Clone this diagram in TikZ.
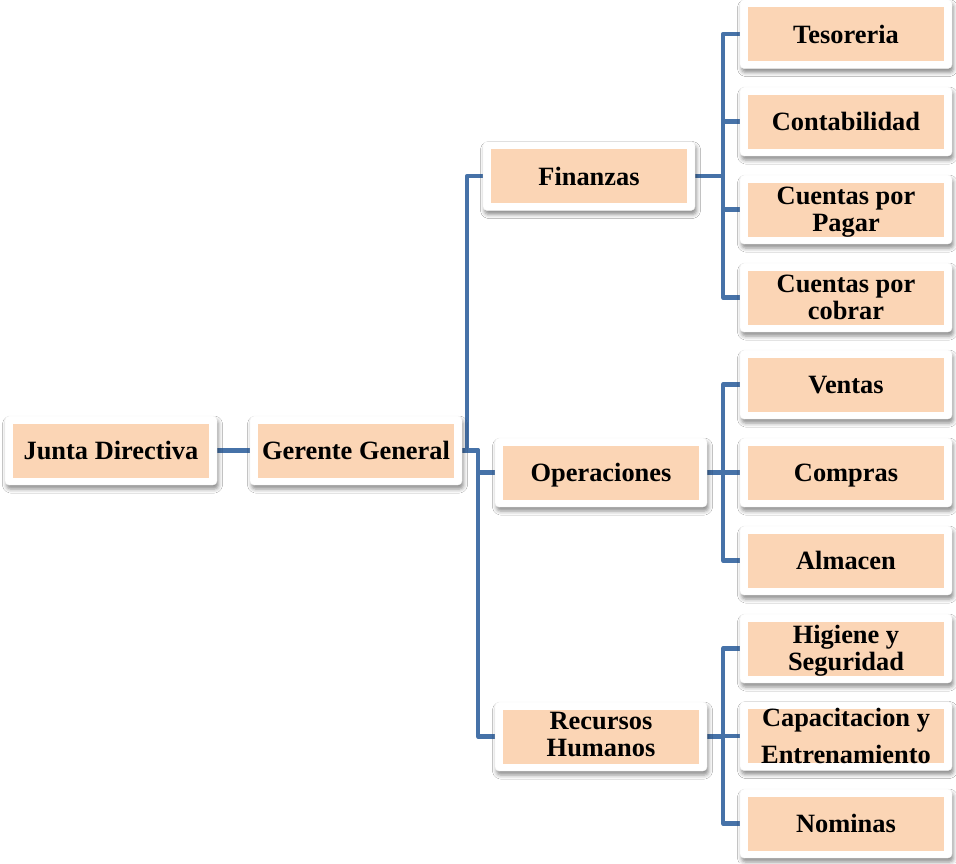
\documentclass[tikz,border=0pt]{standalone}
\usepackage{fontspec}
\setmainfont{Liberation Serif}
\usetikzlibrary{shadows.blur,backgrounds}
\definecolor{linkblue}{RGB}{70,114,168}
\definecolor{peach}{RGB}{251,213,181}
\tikzset{
  outerbox/.style={rectangle, fill=white, draw=black!6, line width=0.4pt, rounded corners=4pt,
    minimum width=212pt, minimum height=69pt, inner sep=0pt,
    blur shadow={shadow xshift=1.5pt, shadow yshift=-4pt, shadow blur radius=4pt, shadow opacity=45}},
  innerbox/.style={rectangle, fill=peach, minimum width=196pt, minimum height=54pt, inner sep=0pt},
  txt/.style={align=center, inner sep=0pt, font=\fontsize{26.4}{27}\selectfont\bfseries, text=black},
  oneline/.style={text height=18pt, text depth=0pt},
  link/.style={draw=linkblue, line width=4.5pt, line join=round, line cap=butt}
}
\newcommand\orgbox[5][oneline]{%
  \node[outerbox] (#2) at (#3,#4) {};
  \node[innerbox] (#2in) at (#2) {};
  \node[txt,#1] (#2txt) at (#2) {#5};
}
\begin{document}
\begin{tikzpicture}[x=1pt,y=-1pt]
\useasboundingbox (0,0) rectangle (956,863);
\orgbox{junta}{111}{450.5}{Junta Directiva}
\orgbox{gerente}{356}{450.5}{Gerente General}
\orgbox{finanzas}{589}{176}{Finanzas}
\orgbox{operaciones}{601}{472.5}{Operaciones}
\orgbox[yshift=1.5pt]{rh}{601}{736.5}{Recursos\\Humanos}
\orgbox{tesoreria}{846}{34}{Tesoreria}
\orgbox{contabilidad}{846}{121.5}{Contabilidad}
\orgbox[yshift=-2.5pt]{cxp}{846}{209.5}{Cuentas por\\Pagar}
\orgbox[yshift=0pt]{cxc}{846}{297.5}{Cuentas por\\cobrar}
\orgbox{ventas}{846}{384.5}{Ventas}
\orgbox{compras}{846}{472.5}{Compras}
\orgbox{almacen}{846}{560.5}{Almacen}
\orgbox[yshift=-2.5pt]{higiene}{846}{648.5}{Higiene y\\Seguridad}
\orgbox[yshift=0pt]{capacitacion}{846}{736}{Capacitacion y\\[10pt]Entrenamiento}
\orgbox{nominas}{846}{823.5}{Nominas}
\begin{scope}[on background layer]
\fill[white] (0,0) rectangle (956,863);
\draw[link] (junta.east) -- (gerente.west);
\draw[link] (gerente.east) -- ++(5,0) |- (finanzas.west);
\draw[link] (gerente.east) -- ++(16,0) |- (operaciones.west);
\draw[link] (gerente.east) -- ++(16,0) |- (rh.west);
\foreach \c in {tesoreria,contabilidad,cxp,cxc}
  \draw[link] (finanzas.east) -- ++(28,0) |- (\c.west);
\foreach \c in {ventas,compras,almacen}
  \draw[link] (operaciones.east) -- ++(16,0) |- (\c.west);
\foreach \c in {higiene,capacitacion,nominas}
  \draw[link] (rh.east) -- ++(16,0) |- (\c.west);
\end{scope}
\end{tikzpicture}
\end{document}
